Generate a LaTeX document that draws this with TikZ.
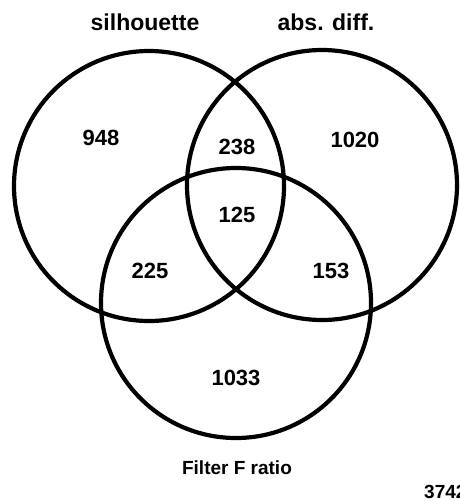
\documentclass[tikz,border=0pt]{standalone}
\usepackage{fontspec}
\setmainfont{Liberation Sans}
\begin{document}
\begin{tikzpicture}[x=1pt,y=-1pt,
  ring/.style={draw=black,line width=4.2pt},
  title/.style={font=\fontsize{23}{26}\selectfont\bfseries,inner sep=0pt},
  count/.style={font=\fontsize{22}{25}\selectfont\bfseries,inner sep=0pt},
  caption/.style={font=\fontsize{19}{22}\selectfont\bfseries,inner sep=0pt}]
\useasboundingbox[fill=white] (0,0) rectangle (459,501);
% the three sets
\node[ring,circle,minimum size=270pt,inner sep=0pt] (sil) at (149,186) {};
\node[ring,circle,minimum size=270pt,inner sep=0pt] (abs) at (322,185) {};
\node[ring,circle,minimum size=270pt,inner sep=0pt] (fil) at (236,303) {};
% set names
\node[title] (tsil) at (145,22) {silhouette};
\node[title] (tabs) at (326,22) {abs. diff.};
\node[caption] (tfil) at (237,468) {Filter F ratio};
% region counts
\node[count] (n948) at (101,138) {948};
\node[count] (n238) at (237,147) {238};
\node[count] (n1020) at (355,140) {1020};
\node[count] (n125) at (237,215) {125};
\node[count] (n225) at (150,271) {225};
\node[count] (n153) at (331,271) {153};
\node[count] (n1033) at (236,378) {1033};
% total, running off the right edge
\node[caption,anchor=west] (total) at (424,492) {3742};
\end{tikzpicture}
\end{document}
